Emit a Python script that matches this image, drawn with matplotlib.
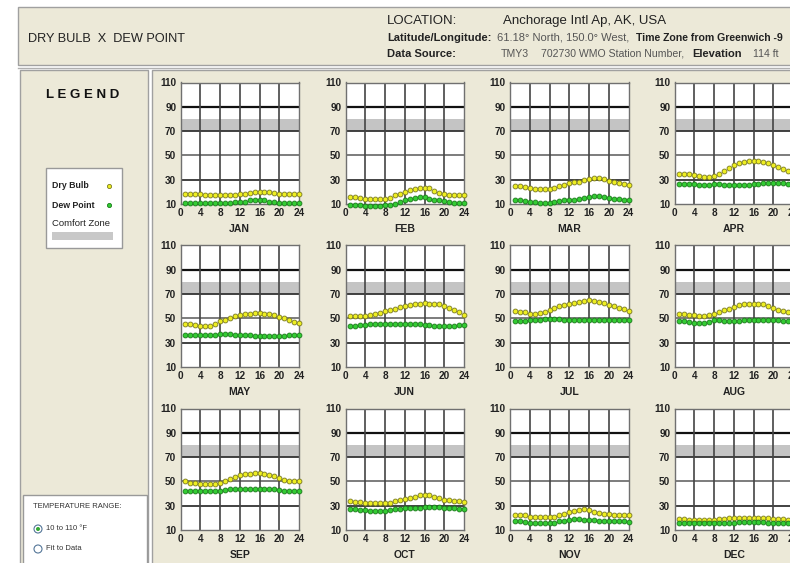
import matplotlib
matplotlib.use('Agg')
import matplotlib.pyplot as plt
from matplotlib.patches import Rectangle, Circle

# hourly averages (hour 1..24), deg F
hours = list(range(1, 25))
months = ['JAN', 'FEB', 'MAR', 'APR', 'MAY', 'JUN',
          'JUL', 'AUG', 'SEP', 'OCT', 'NOV', 'DEC']

dry_jan = [18, 18, 18, 18, 17.5, 17.5, 17.5, 17, 17, 17, 17.5, 18, 18.5, 19, 19.5, 20, 20, 19.5, 19, 18.5, 18.5, 18, 18, 18]
dew_jan = [11, 11, 11, 11, 10.5, 10.5, 11, 11, 11, 11, 11.5, 12, 12, 13, 13, 13.5, 13, 12, 11.5, 11, 11, 11, 11, 11]
dry_feb = [16, 16, 15, 14, 14, 14.5, 14.5, 14.5, 15, 17, 18.5, 20, 21.5, 22.5, 23, 23.5, 23, 21, 19, 18, 17.5, 17, 17, 17]
dew_feb = [9, 9, 9, 8.5, 8, 8.5, 8.5, 9, 9, 10, 11.5, 13.5, 14.5, 15, 15.5, 15.5, 14.5, 13.5, 13, 12.5, 11.5, 11, 11, 11]
dry_mar = [25, 24.5, 24, 23, 22.5, 22, 22, 22, 23, 25, 26, 27, 28, 28.5, 29.5, 30.5, 31.5, 31.5, 30.5, 29, 28, 27, 26.5, 26]
dew_mar = [13, 13, 12.5, 12, 11.5, 11, 10.5, 11, 12, 12.5, 13, 13.5, 13.5, 14, 15, 16, 16.5, 16.5, 16, 15, 14.5, 14, 13.5, 13]
dry_apr = [35, 35, 34.5, 34, 33, 32, 32, 33, 35, 37.5, 40, 42, 43.5, 44.5, 45, 45, 45, 44.5, 43.5, 42, 40.5, 39, 37.5, 36]
dew_apr = [26.5, 26.5, 26.5, 26.5, 26, 26, 26, 26.5, 26.5, 26, 26, 25.5, 25.5, 26, 26, 26.5, 26.5, 27, 27, 27, 27, 27, 26.5, 26.5]
dry_may = [45.5, 45, 44.5, 43.5, 43.5, 44, 45.5, 47.5, 49, 50.5, 52, 53, 53.5, 54, 54.5, 54.5, 54, 53.5, 53, 51.5, 50, 48.5, 47, 46]
dew_may = [36.5, 36.5, 36.5, 36, 36, 36.5, 36.5, 37.5, 37.5, 37, 36.5, 36.5, 36, 36, 35.5, 35.5, 35.5, 35.5, 35.5, 35.5, 35.5, 36, 36, 36.5]
dry_jun = [52, 52, 52, 52, 52.5, 53.5, 54.5, 56, 57, 58, 59, 60, 61, 61.5, 62, 62.5, 62, 62, 61.5, 60, 58.5, 57, 55, 53]
dew_jun = [43.5, 44, 44.5, 44.5, 45, 45, 45, 45, 45, 45, 45, 45, 45, 45, 45, 44.5, 44.5, 44, 44, 43.5, 44, 44, 44.5, 44.5]
dry_jul = [56, 55.5, 55, 54, 54, 54.5, 55.5, 57, 58.5, 60, 61, 61.5, 62.5, 63.5, 64.5, 65, 64.5, 63.5, 62.5, 61, 60, 58.5, 57.5, 56.5]
dew_jul = [48, 48, 48, 48.5, 48.5, 49, 49.5, 49.5, 49.5, 49.5, 49, 49, 48.5, 48.5, 48.5, 48.5, 48.5, 48.5, 48.5, 48.5, 48.5, 48.5, 48.5, 48.5]
dry_aug = [54, 53.5, 53, 52.5, 52, 52, 52.5, 54, 55.5, 57, 58, 59.5, 61, 61.5, 62, 62, 62, 61.5, 60.5, 58.5, 57, 56, 55, 54]
dew_aug = [47.5, 47.5, 47, 46.5, 46, 46, 47, 48.5, 48.5, 48, 48, 48, 48, 48.5, 48.5, 48.5, 48.5, 48.5, 48.5, 49, 48.5, 48, 48, 48]
dry_sep = [50, 49, 48.5, 48, 48, 48, 48, 49, 50.5, 52, 53.5, 55, 56, 56.5, 57, 57, 56.5, 55.5, 54.5, 52.5, 51, 50.5, 50, 50]
dew_sep = [42.5, 42.5, 42, 42, 42, 42, 42, 42.5, 43, 43.5, 43.5, 43.5, 43.5, 43.5, 43.5, 43.5, 44, 43.5, 43.5, 43, 42.5, 42.5, 42, 42]
dry_oct = [33.5, 33, 33, 32.5, 32.5, 32.5, 32, 32, 32.5, 33.5, 34.5, 35.5, 36.5, 37.5, 38.5, 39, 38.5, 37.5, 36.5, 35, 34.5, 34, 33.5, 33]
dew_oct = [27, 27, 26.5, 26.5, 26, 26, 26, 26, 26.5, 27, 27.5, 28, 28, 28, 28.5, 29, 29, 29, 29, 28.5, 28, 28, 27.5, 27]
dry_nov = [22, 22.5, 22, 21, 20.5, 20.5, 20.5, 20.5, 21, 22, 23, 24.5, 26, 26.5, 27, 26.5, 25, 24, 23.5, 23, 22.5, 22.5, 22, 22]
dew_nov = [17, 17.5, 16.5, 16, 16, 15.5, 15.5, 15.5, 16, 17, 17.5, 18.5, 19, 19, 18.5, 18.5, 18, 17.5, 17, 17, 17, 17, 17, 16.5]
dry_dec = [19, 19, 18.5, 18.5, 18.5, 18.5, 18.5, 18.5, 19, 19, 19.5, 19.5, 20, 20, 20, 19.5, 19.5, 19.5, 19.5, 19, 19, 19, 18.5, 18.5]
dew_dec = [15.5, 15.5, 15.5, 15.5, 15.5, 15.5, 15.5, 15.5, 16, 16, 16, 16, 16.5, 16.5, 16.5, 16.5, 16.5, 16.5, 16, 16, 16, 16, 15.5, 15.5]

dry_bulb = [dry_jan, dry_feb, dry_mar, dry_apr, dry_may, dry_jun,
            dry_jul, dry_aug, dry_sep, dry_oct, dry_nov, dry_dec]
dew_point = [dew_jan, dew_feb, dew_mar, dew_apr, dew_may, dew_jun,
             dew_jul, dew_aug, dew_sep, dew_oct, dew_nov, dew_dec]

y_ticks = [10, 30, 50, 70, 90, 110]
x_ticks = [0, 4, 8, 12, 16, 20, 24]
comfort_lo, comfort_hi = 70, 80

NARROW = ['DejaVu Sans Condensed', 'Liberation Sans', 'DejaVu Sans']
SANS = ['Liberation Sans', 'DejaVu Sans']
BEIGE = '#ECE9D8'
DRY_FC, DRY_EC = '#EEEE22', '#7A7A20'
DEW_FC, DEW_EC = '#33CC33', '#1A7A1A'

W, H = 790, 563
fig = plt.figure(figsize=(W / 100, H / 100), dpi=100)
fig.patch.set_facecolor('white')

# background layer in pixel coordinates
bg = fig.add_axes([0, 0, 1, 1], zorder=0)
bg.set_xlim(0, W)
bg.set_ylim(H, 0)
bg.axis('off')


def box(x0, y0, x1, y1, fc, ec='#A0A0A0', lw=1.0):
    bg.add_patch(Rectangle((x0, y0), x1 - x0, y1 - y0, facecolor=fc,
                           edgecolor=ec, lw=lw))


# header, legend panel, chart panel
box(18, 7, 795, 65, BEIGE)
bg.plot([18, 795], [67.5, 67.5], color='#B0B0B0', lw=1)
box(20, 70, 148, 570, BEIGE)
box(152, 70, 795, 570, BEIGE)

bg.text(28, 39, 'DRY BULB  X  DEW POINT', fontsize=9.2, family=SANS,
        va='center', color='#222222')
bg.text(387, 21, 'LOCATION:', fontsize=9.5, family=SANS, va='center', color='#222222')
bg.text(503, 21, 'Anchorage Intl Ap, AK, USA', fontsize=9.5, family=SANS,
        va='center', color='#222222')
bg.text(387, 38, 'Latitude/Longitude:', fontsize=8, family=SANS,
        weight='bold', va='center', color='#222222')
bg.text(497, 38, '61.18° North, 150.0° West,', fontsize=8, family=SANS,
        va='center', color='#555555')
bg.text(636, 38, 'Time Zone from Greenwich -9', fontsize=7.6, family=SANS,
        weight='bold', va='center', color='#222222')
bg.text(387, 54, 'Data Source:', fontsize=8, family=SANS,
        weight='bold', va='center', color='#222222')
bg.text(501, 54, 'TMY3', fontsize=7.6, family=SANS, va='center', color='#555555')
bg.text(541, 54, '702730 WMO Station Number,', fontsize=7.6, family=SANS,
        va='center', color='#555555')
bg.text(692, 54, 'Elevation', fontsize=8, family=SANS,
        weight='bold', va='center', color='#222222')
bg.text(753, 54, '114 ft', fontsize=7.6, family=SANS, va='center', color='#555555')

# legend
bg.text(83, 95, 'L E G E N D', fontsize=9.5, family=SANS, weight='bold',
        ha='center', va='center', color='#111111')
box(46, 168, 122, 248, 'white', '#999999')
bg.text(52, 186, 'Dry Bulb', fontsize=6.3, family=SANS, weight='bold',
        va='center', color='#222222')
bg.plot([109], [186], 'o', ms=3, mfc=DRY_FC, mec=DRY_EC, mew=0.6)
bg.text(52, 205, 'Dew Point', fontsize=6.3, family=SANS, weight='bold',
        va='center', color='#222222')
bg.plot([109], [205], 'o', ms=3, mfc=DEW_FC, mec=DEW_EC, mew=0.6)
bg.text(52, 223, 'Comfort Zone', fontsize=6.8, family=SANS,
        va='center', color='#222222')
box(52, 232, 113, 240, '#C8C8C8', 'none')

# temperature range selector
box(23, 495, 147, 570, 'white', '#999999')
bg.text(33, 507, 'TEMPERATURE RANGE:', fontsize=5.5, family=SANS,
        va='center', color='#333333')
bg.add_patch(Circle((38, 529), 4, facecolor='white', edgecolor='#557799', lw=0.8))
bg.add_patch(Circle((38, 529), 2, facecolor='#33AA33', edgecolor='none'))
bg.text(46, 529, '10 to 110 °F', fontsize=5.5, family=SANS,
        va='center', color='#333333')
bg.add_patch(Circle((38, 549), 4, facecolor='white', edgecolor='#557799', lw=0.8))
bg.text(46, 549, 'Fit to Data', fontsize=5.5, family=SANS,
        va='center', color='#333333')

# month panels
col_left = [180.5, 345.5, 510, 674.5]
row_top = [82.5, 245.5, 408.5]
pw, ph = 118.5, 121.5

for i, month in enumerate(months):
    r, c = divmod(i, 4)
    x0, y0 = col_left[c], row_top[r]
    ax = fig.add_axes([x0 / W, 1 - (y0 + ph) / H, pw / W, ph / H], zorder=2)
    ax.set_facecolor('white')
    ax.set_xlim(0, 24)
    ax.set_ylim(10, 110)
    ax.axhspan(comfort_lo, comfort_hi, color='#C4C4C4', lw=0, zorder=0.5)
    for yv in [30, 70]:
        ax.axhline(yv, color='#333333', lw=1.3, zorder=1)
    ax.axhline(50, color='#666666', lw=1.2, zorder=1)
    ax.axhline(90, color='#111111', lw=1.6, zorder=1)
    for xv in x_ticks[1:-1]:
        ax.axvline(xv, color='#444444', lw=1.2, zorder=1)

    ax.plot(hours, dry_bulb[i], 'o', ms=3.5, mfc=DRY_FC, mec=DRY_EC,
            mew=0.6, zorder=3, clip_on=False)
    ax.plot(hours, dew_point[i], 'o', ms=3.5, mfc=DEW_FC, mec=DEW_EC,
            mew=0.6, zorder=3, clip_on=False)

    ax.set_xticks(x_ticks)
    ax.set_yticks(y_ticks)
    ax.tick_params(length=0, pad=3, labelsize=7.2, labelcolor='#222222')
    for lab in ax.get_xticklabels() + ax.get_yticklabels():
        lab.set_family(NARROW)
        lab.set_fontweight('bold')
    for sp in ax.spines.values():
        sp.set_color('#707070')
        sp.set_linewidth(1.0)
    ax.text(0.5, -25 / ph, month, transform=ax.transAxes, ha='center',
            va='center', fontsize=7.5, family=NARROW, weight='bold',
            color='#222222')

fig.savefig('out.png', dpi=100)
